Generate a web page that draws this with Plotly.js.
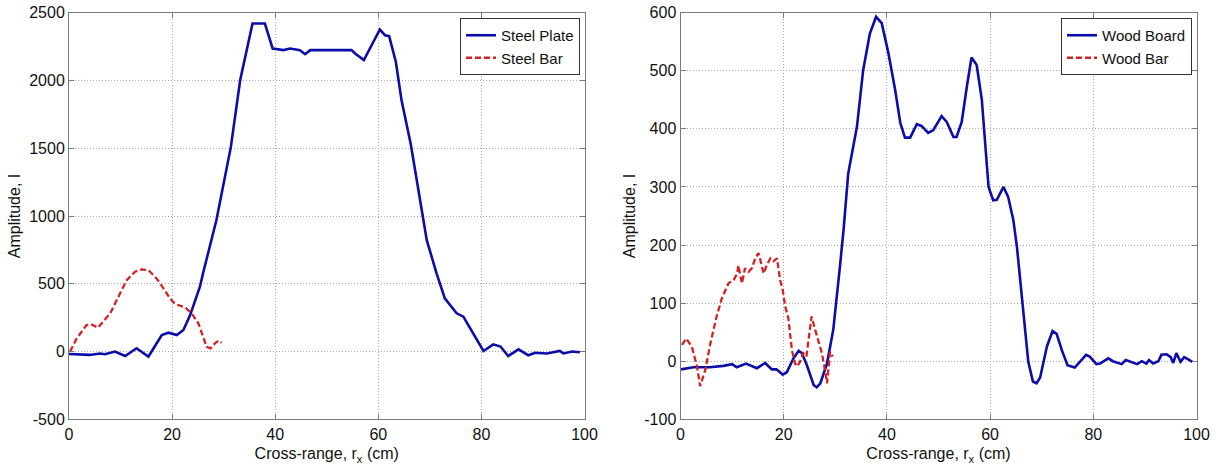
<!DOCTYPE html>
<html>
<head>
<meta charset="utf-8">
<script src="https://cdn.plot.ly/plotly-3.0.1.min.js"></script>
<style>html,body{margin:0;padding:0;background:#fff;}#chart{width:1221px;height:468px;}</style>
</head>
<body>
<div id="chart"></div>
<script>
// Left panel: Steel
const plateX = [0,2,4,6,7,8.9,10.9,13.1,15.4,16.5,18,19.3,20.9,22.2,23.5,25.4,26,28.6,31.4,33.2,34.1,35.6,38,39.5,41.6,42.9,44.8,45.8,46.8,48.7,54.8,55.5,57.2,58.7,60.3,61.3,62.1,63.4,64.5,66.3,68.7,69.4,71.3,72.9,75.2,76.5,78.4,80.4,82.3,83.7,85.2,87.2,89.1,90.4,92.7,95.2,95.9,97.6,99.1];
const plateY = [-18,-22,-25,-15,-20,0,-33,24,-38,30,122,139,122,159,269,478,577,970,1510,2002,2150,2420,2420,2236,2224,2236,2224,2194,2224,2224,2224,2199,2150,2260,2376,2334,2327,2138,1855,1530,994,822,577,392,282,257,134,4,53,37,-33,16,-28,-9,-14,4,-14,0,-5];
const steelBarX = [0.2,1.5,3.4,4.3,5.6,6.3,8,9.9,11.2,12.8,14.1,15.4,16.7,17.7,19.6,20.6,22.5,23.8,25.1,26.7,27.5,28.3,29,29.6];
const steelBarY = [0,97,195,202,175,207,282,429,527,589,606,601,552,503,392,350,326,282,208,35,24,60,80,65];
// Right panel: Wood
const boardX = [0.1,2.5,5.7,8.3,10,10.9,12.7,14.8,16.4,17.7,18.6,19.8,20.6,21.9,22.9,23.5,24.5,25.8,26.4,27.1,28.4,29.6,30.9,31.6,32.5,34.2,35.4,36.7,37.9,39,40.3,41.6,42.6,43.5,44.5,45.8,46.7,48,49,50.6,51.6,52.9,53.5,54.5,55.5,56.4,57.4,58.4,59.7,60.6,61.3,62.6,63.5,64.5,65.2,66.4,67.4,68.3,69,69.7,71,72.1,72.9,73.9,75,76.4,77.4,78.6,79.3,80.6,81.3,82.9,83.8,85.5,86.3,87.8,88.5,89.4,90.3,90.8,91.6,92.6,93.2,94.2,95,95.5,96.1,96.9,97.6,98.4,99.2];
const boardY = [-14,-10.5,-10.5,-8,-5,-10.5,-4,-12,-3,-14,-14,-23,-19,5,18,14,-7,-41,-45,-38,-4,54,163,226,323,404,501,564,593,582,530,467,410,385,385,408,405,393,398,422,412,386,386,412,473,523,510,450,300,277,278,300,283,243,197,82,-1,-35,-38,-28,25,52,47,19,-7,-11,-1,11,8,-5,-4,5,0,-5,2,-2,-5,0,-4,2,-4,0,11,12,7,-3,14,-1,7,3,-1];
const woodBarX = [0.3,1.1,2.2,3.2,3.8,4.8,5.8,7,8,9.3,10.3,11,11.2,11.9,12.5,13.2,13.8,14.5,15.1,15.4,16.1,16.7,17.4,18,18.7,19.3,19.8,20.3,20.9,21.6,22.2,22.6,23.1,23.8,24.4,25.4,26.1,27.4,28,28.4,29,29.5];
const woodBarY = [28,39,25,-9,-43,-15,31,77,108,134,140,151,165,134,160,154,160,177,186,177,151,165,177,172,177,140,123,94,74,19,-4,-9,-2,14,8,77,54,14,-15,-38,16,8];

const xTicks = [0,20,40,60,80,100];
const yTicksLeft = [-500,0,500,1000,1500,2000,2500];
const yTicksRight = [-100,0,100,200,300,400,500,600];
const xTitle = 'Cross-range, r<sub>x</sub> (cm)';
const yTitle = 'Amplitude, I';

const BLUE = '#0c0cab';
const RED = '#d42222';
const FONT = 'Liberation Sans, Arial, Helvetica, sans-serif';

const traces = [
  {x: plateX, y: plateY, name: 'Steel Plate', type: 'scatter', mode: 'lines', line: {color: BLUE, width: 2.6}, xaxis: 'x', yaxis: 'y', legend: 'legend'},
  {x: steelBarX, y: steelBarY, name: 'Steel Bar', type: 'scatter', mode: 'lines', line: {color: RED, width: 2.3, dash: '6px,3px'}, xaxis: 'x', yaxis: 'y', legend: 'legend'},
  {x: boardX, y: boardY, name: 'Wood Board', type: 'scatter', mode: 'lines', line: {color: BLUE, width: 2.6}, xaxis: 'x2', yaxis: 'y2', legend: 'legend2'},
  {x: woodBarX, y: woodBarY, name: 'Wood Bar', type: 'scatter', mode: 'lines', line: {color: RED, width: 2.3, dash: '6px,3px'}, xaxis: 'x2', yaxis: 'y2', legend: 'legend2'}
];

function commonAxis() {
  return {
    showline: true, linecolor: '#7a7a7a', linewidth: 1, mirror: 'ticks',
    ticks: 'inside', ticklen: 5, tickcolor: '#7a7a7a',
    showgrid: true, gridcolor: '#a8a8a8', griddash: '1px,2px', gridwidth: 1, zeroline: false,
    tickfont: {family: FONT, size: 16, color: '#111'}
  };
}
function xa(domain, anchor) {
  return Object.assign(commonAxis(), {
    domain: domain, anchor: anchor, range: [0, 100], tickvals: xTicks, ticktext: xTicks.map(String),
    title: {text: xTitle, font: {family: FONT, size: 16, color: '#111'}, standoff: 6}
  });
}
function ya(domain, anchor, range, ticks) {
  return Object.assign(commonAxis(), {
    domain: domain, anchor: anchor, range: range, tickvals: ticks, ticktext: ticks.map(String),
    title: {text: yTitle, font: {family: FONT, size: 16, color: '#111'}, standoff: 4}
  });
}

const yDom = [1 - 419.3/468, 1 - 12.7/468];
const legendStyle = {bgcolor: '#fff', bordercolor: '#333', borderwidth: 1, font: {family: FONT, size: 15, color: '#111'}, tracegroupgap: 0, itemwidth: 30, yanchor: 'top', xanchor: 'right', y: 1 - 18/468};
const layout = {
  width: 1221, height: 468,
  margin: {l: 0, r: 0, t: 0, b: 0},
  paper_bgcolor: '#fff', plot_bgcolor: '#fff',
  font: {family: FONT, size: 15, color: '#111'},
  xaxis: xa([69/1221, 584.5/1221], 'y'),
  yaxis: ya(yDom, 'x', [-500, 2500], yTicksLeft),
  xaxis2: xa([680.5/1221, 1196.5/1221], 'y2'),
  yaxis2: ya(yDom, 'x2', [-100, 600], yTicksRight),
  legend: Object.assign({x: 580/1221}, legendStyle),
  legend2: Object.assign({x: 1192/1221}, legendStyle),
  showlegend: true
};

Plotly.newPlot('chart', traces, layout, {displayModeBar: false, staticPlot: true});
</script>
</body>
</html>
